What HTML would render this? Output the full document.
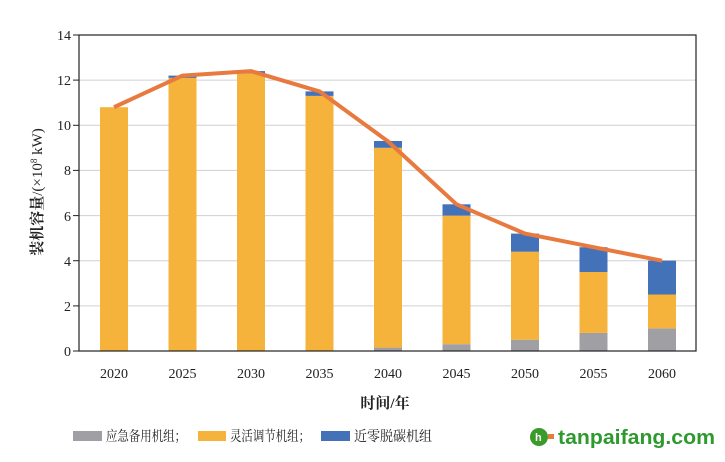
<!DOCTYPE html><html><head><meta charset="utf-8"><style>body{margin:0;background:#fff}</style></head><body>
<svg width="725" height="457" xmlns="http://www.w3.org/2000/svg" font-family="Liberation Serif, Noto Serif CJK SC, serif">
<rect width="725" height="457" fill="#fff"/>
<g stroke="#d0d0d0" stroke-width="1">
<line x1="79" x2="696" y1="305.9" y2="305.9"/><line x1="79" x2="696" y1="260.7" y2="260.7"/>
<line x1="79" x2="696" y1="215.6" y2="215.6"/><line x1="79" x2="696" y1="170.4" y2="170.4"/>
<line x1="79" x2="696" y1="125.3" y2="125.3"/><line x1="79" x2="696" y1="80.1" y2="80.1"/>
</g>
<g>
<rect x="100" y="107.2" width="28" height="243.8" fill="#F5B33C"/>
<rect x="168.5" y="77.9" width="28" height="273.1" fill="#F5B33C"/><rect x="168.5" y="75.6" width="28" height="2.3" fill="#4472B8"/>
<rect x="237" y="73.4" width="28" height="277.6" fill="#F5B33C"/><rect x="237" y="71.1" width="28" height="2.3" fill="#4472B8"/>
<rect x="305.5" y="95.9" width="28" height="255.1" fill="#F5B33C"/><rect x="305.5" y="91.4" width="28" height="4.5" fill="#4472B8"/>
<rect x="374" y="347.6" width="28" height="3.4" fill="#A0A0A4"/><rect x="374" y="147.8" width="28" height="199.8" fill="#F5B33C"/><rect x="374" y="141" width="28" height="6.8" fill="#4472B8"/>
<rect x="442.5" y="344.2" width="28" height="6.8" fill="#A0A0A4"/><rect x="442.5" y="215.6" width="28" height="128.6" fill="#F5B33C"/><rect x="442.5" y="204.3" width="28" height="11.3" fill="#4472B8"/>
<rect x="511" y="339.7" width="28" height="11.3" fill="#A0A0A4"/><rect x="511" y="251.7" width="28" height="88" fill="#F5B33C"/><rect x="511" y="233.6" width="28" height="18.1" fill="#4472B8"/>
<rect x="579.5" y="332.9" width="28" height="18.1" fill="#A0A0A4"/><rect x="579.5" y="272" width="28" height="60.9" fill="#F5B33C"/><rect x="579.5" y="247.2" width="28" height="24.8" fill="#4472B8"/>
<rect x="648" y="328.4" width="28" height="22.6" fill="#A0A0A4"/><rect x="648" y="294.5" width="28" height="33.9" fill="#F5B33C"/><rect x="648" y="260.6" width="28" height="33.9" fill="#4472B8"/>
</g>
<rect x="79" y="35" width="617" height="316" fill="none" stroke="#222" stroke-width="1.2"/>
<g stroke="#222"><line x1="73" x2="79" y1="351" y2="351"/><line x1="73" x2="79" y1="305.9" y2="305.9"/><line x1="73" x2="79" y1="260.7" y2="260.7"/><line x1="73" x2="79" y1="215.6" y2="215.6"/><line x1="73" x2="79" y1="170.4" y2="170.4"/><line x1="73" x2="79" y1="125.3" y2="125.3"/><line x1="73" x2="79" y1="80.1" y2="80.1"/><line x1="73" x2="79" y1="35" y2="35"/></g>
<g font-size="14" text-anchor="end" fill="#222">
<text x="71" y="356">0</text><text x="71" y="311">2</text><text x="71" y="266">4</text><text x="71" y="221">6</text><text x="71" y="175">8</text><text x="71" y="130">10</text><text x="71" y="85">12</text><text x="71" y="40">14</text></g>
<g font-size="14" text-anchor="middle" fill="#222">
<text x="114" y="378">2020</text><text x="182.5" y="378">2025</text><text x="251" y="378">2030</text><text x="319.5" y="378">2035</text><text x="388" y="378">2040</text><text x="456.5" y="378">2045</text><text x="525" y="378">2050</text><text x="593.5" y="378">2055</text><text x="662" y="378">2060</text></g>
<text x="385" y="408" font-size="15" text-anchor="middle" font-weight="bold" fill="#222">时间/年</text>
<text transform="translate(42,192) rotate(-90)" font-size="15" text-anchor="middle" fill="#222"><tspan font-weight="bold">装机容量</tspan>/(×10<tspan font-size="9" dy="-5">8</tspan><tspan dy="5"> kW)</tspan></text>
<polyline fill="none" stroke="#E8793F" stroke-width="4" stroke-linejoin="round" points="114,107.2 182.5,75.6 251,71.1 319.5,91.4 388,141.4 456.5,204.3 525,233.6 593.5,247.2 662,260.7"/>
<g font-size="14" fill="#222">
<rect x="73" y="431" width="29" height="10" fill="#A0A0A4"/><text x="106" y="441" textLength="80" lengthAdjust="spacingAndGlyphs">应急备用机组；</text>
<rect x="198" y="431" width="28" height="10" fill="#F5B33C"/><text x="230" y="441" textLength="80" lengthAdjust="spacingAndGlyphs">灵活调节机组；</text>
<rect x="321" y="431" width="29" height="10" fill="#4472B8"/><text x="354" y="441" textLength="78" lengthAdjust="spacingAndGlyphs">近零脱碳机组</text>
</g>
<circle cx="539" cy="437" r="9" fill="#3a9a2a"/><text x="535" y="441" font-size="11" fill="#fff" font-family="Liberation Sans, sans-serif" font-weight="bold">h</text>
<rect x="548" y="434" width="6" height="5" fill="#e8793f"/>
<text x="558" y="444" font-size="20" fill="#2e9a2e" font-weight="bold" font-family="Liberation Sans, sans-serif" textLength="157" lengthAdjust="spacingAndGlyphs">tanpaifang.com</text>
</svg></body></html>
